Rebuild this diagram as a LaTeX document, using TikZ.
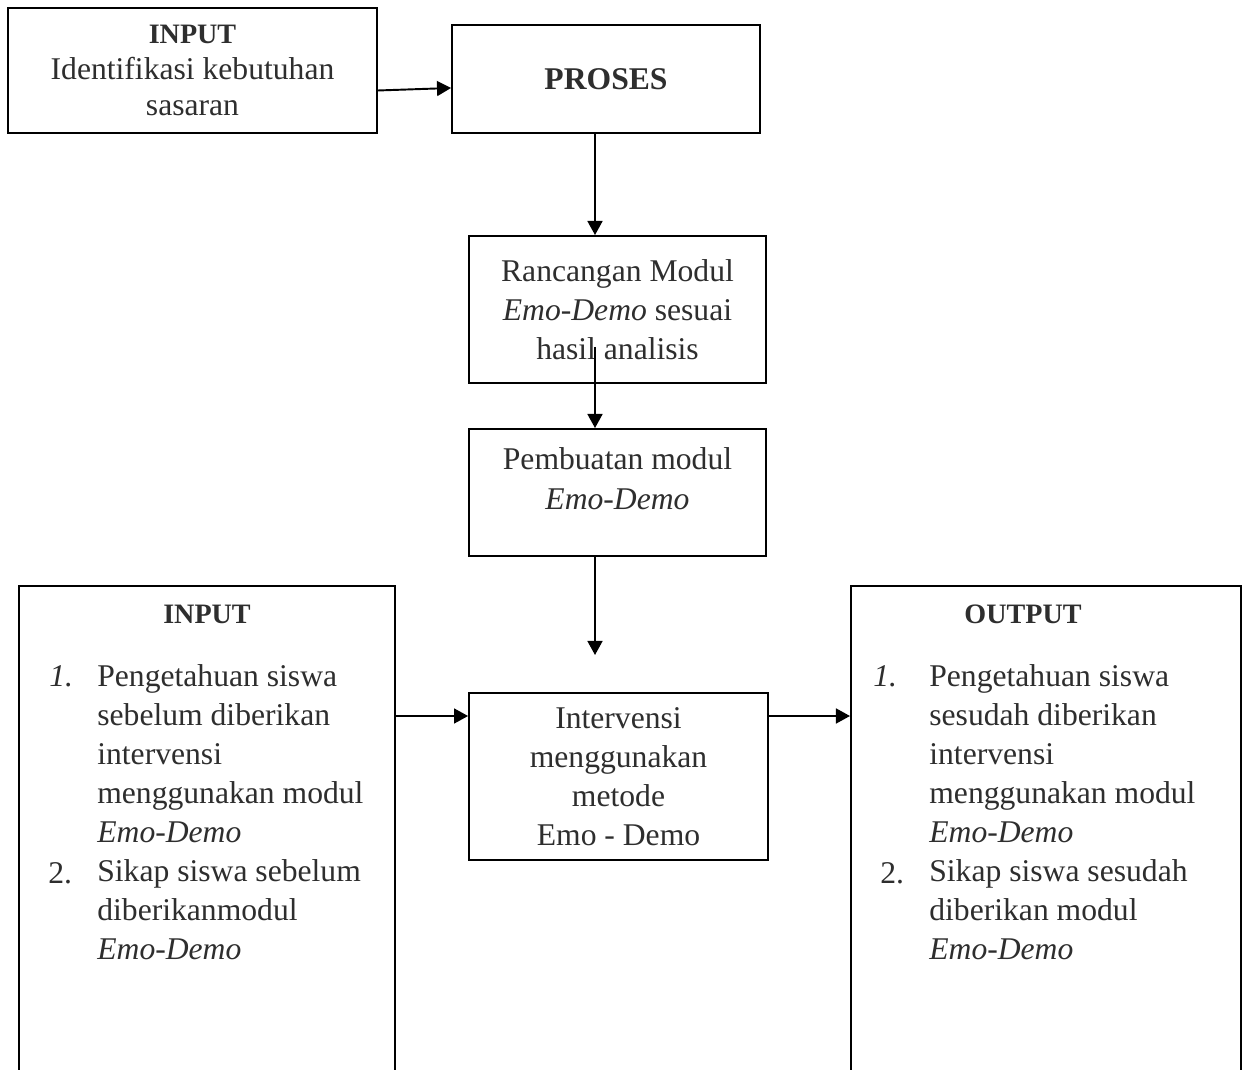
\documentclass[tikz,border=0pt]{standalone}
\usepackage{fontspec}
\setmainfont{Liberation Serif}
\usetikzlibrary{positioning,arrows.meta}
\newcommand{\isi}{\fontsize{18}{22.2}\selectfont}
\newcommand{\judul}{\fontsize{16}{20}\selectfont\bfseries}
\tikzset{
  flowarrow/.style={-{Triangle[length=8pt,width=8.5pt]}, line width=1.1pt},
  kotak/.style={draw, line width=1.1pt, inner sep=0pt, align=center, text=black!82, font=\isi},
  teks/.style={inner sep=0pt, text width=5.6cm, align=flush center, text=black!82, font=\isi},
  daftar/.style={inner sep=0pt, text width=6cm, align=flush left, text=black!82, font=\isi},
  nomor/.style={inner sep=0pt, text=black!82, font=\isi},
  judulteks/.style={inner sep=0pt, text=black!82, font=\judul}
}
\begin{document}
\begin{tikzpicture}[x=0.02cm, y=-0.02cm, >=Latex]
  \path[use as bounding box, fill=white] (0,0) rectangle (1250,1070);
  \clip (0,0) rectangle (1250,1070);

  \node[kotak, minimum width=7.38cm, minimum height=2.5cm, font={\fontsize{18}{20.4}\selectfont}] (input1) at (192.5,70.5) {{\judul INPUT}\\Identifikasi kebutuhan\\sasaran};
  \node[kotak, minimum width=6.16cm, minimum height=2.16cm, font={\fontsize{18}{22}\selectfont\bfseries}] (proses) at (606,79) {PROSES};
  \node[kotak, minimum width=5.94cm, minimum height=2.94cm] (rancang) at (617.5,309.5) {Rancangan Modul\\\textit{Emo-Demo} sesuai\\hasil analisis};
  \node[kotak, minimum width=5.94cm, minimum height=2.54cm] (buat) at (617.5,492.5) {};
  \node[teks, anchor=base] (buattxt) at (617.5,470) {Pembuatan modul\\\textit{Emo-Demo}};
  \node[kotak, minimum width=5.98cm, minimum height=3.34cm] (interv) at (618.5,776.5) {Intervensi\\menggunakan\\metode\\Emo - Demo};

  \node[kotak, minimum width=7.52cm, minimum height=10.4cm, anchor=north west] (inbox) at (18,585) {};
  \node[kotak, minimum width=7.8cm, minimum height=10.4cm, anchor=north west] (outbox) at (850,585) {};

  \node[judulteks, anchor=base] (injudul) at (207,623) {INPUT};
  \node[nomor, anchor=base west] (in1) at (49,686) {\textit{1.}};
  \node[nomor, anchor=base west] (in2) at (48,883) {2.};
  \node[daftar, anchor=base west] (inlist) at (97,686) {Pengetahuan siswa\\sebelum diberikan\\intervensi\\menggunakan modul\\\textit{Emo-Demo}\\Sikap siswa sebelum\\diberikanmodul\\\textit{Emo-Demo}};

  \node[judulteks, anchor=base] (outjudul) at (1023,623) {OUTPUT};
  \node[nomor, anchor=base west] (out1) at (873,686) {\textit{1.}};
  \node[nomor, anchor=base west] (out2) at (880,883) {2.};
  \node[daftar, anchor=base west] (outlist) at (929,686) {Pengetahuan siswa\\sesudah diberikan\\intervensi\\menggunakan modul\\\textit{Emo-Demo}\\Sikap siswa sesudah\\diberikan modul\\\textit{Emo-Demo}};

  \coordinate (spine) at (595,0);
  \coordinate (hasil) at (595,347);
  \coordinate (ujung) at (595,655);
  \coordinate (jalur) at (0,716);

  \draw[flowarrow] ([yshift=-0.4cm]input1.east) -- ([yshift=-0.18cm]proses.west);
  \draw[flowarrow] (proses.south -| spine) -- (rancang.north -| spine);
  \draw[flowarrow] (hasil) -- (buat.north -| spine);
  \draw[flowarrow] (buat.south -| spine) -- (ujung);
  \draw[flowarrow] (inbox.east |- jalur) -- (interv.west |- jalur);
  \draw[flowarrow] (interv.east |- jalur) -- (outbox.west |- jalur);
\end{tikzpicture}
\end{document}
